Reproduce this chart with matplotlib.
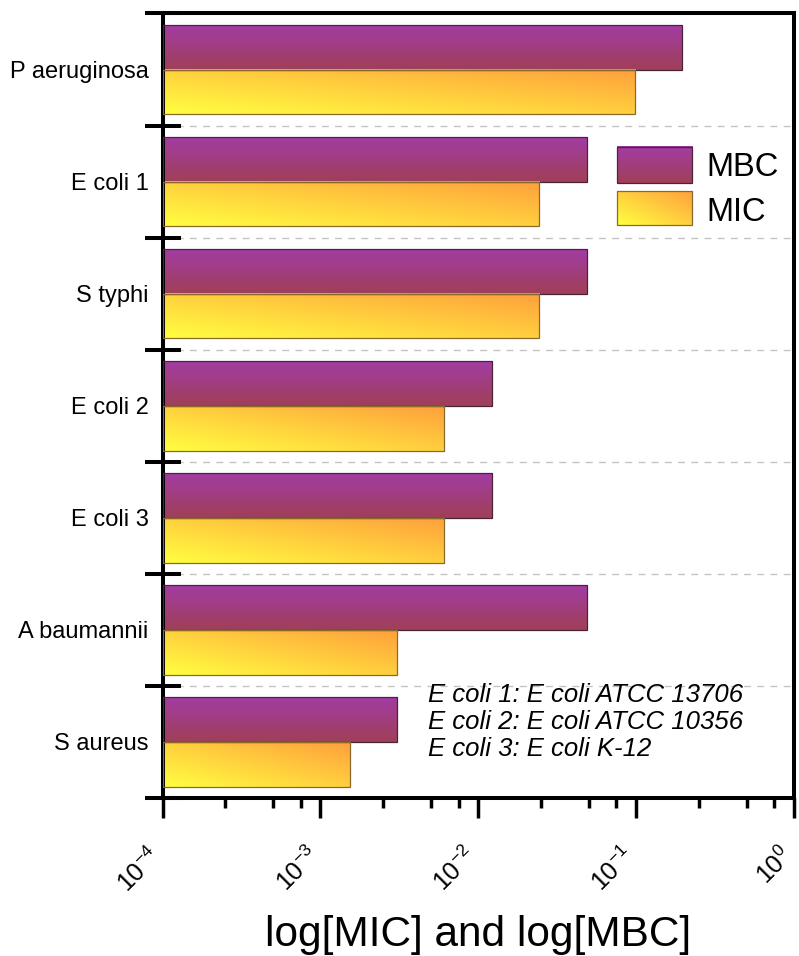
import numpy as np
import matplotlib
matplotlib.use("Agg")
import matplotlib.pyplot as plt
from matplotlib.image import AxesImage
from matplotlib.patches import Rectangle
from matplotlib.ticker import FixedLocator, NullFormatter
from matplotlib.transforms import ScaledTranslation

plt.rcParams["font.family"] = ["Liberation Sans", "DejaVu Sans"]
plt.rcParams["mathtext.default"] = "regular"
plt.rcParams["axes.unicode_minus"] = False

# ---- data -------------------------------------------------------------
strains = ["P aeruginosa", "E coli 1", "S typhi", "E coli 2", "E coli 3",
           "A baumannii", "S aureus"]
mbc = [0.195, 0.0488, 0.0488, 0.0122, 0.0122, 0.0488, 0.00305]
mic = [0.0977, 0.0244, 0.0244, 0.0061, 0.0061, 0.00305, 0.00153]
xticks = [1e-4, 1e-3, 1e-2, 1e-1, 1e0]
strain_notes = ["E coli 1: E coli ATCC 13706",
                "E coli 2: E coli ATCC 10356",
                "E coli 3: E coli K-12"]

# ---- colours ----------------------------------------------------------
MBC_TOP = np.array([162, 60, 164]) / 255
MBC_BOT = np.array([160, 64, 86]) / 255
MIC_LOW = np.array([255, 255, 64]) / 255
MIC_HIGH = np.array([255, 160, 60]) / 255
MBC_EDGE = "#4a2438"
MIC_EDGE = "#8a6a2c"


def vertical_gradient(bottom, top, n=64):
    t = np.linspace(0, 1, n)[:, None, None]
    return np.repeat(bottom * (1 - t) + top * t, 2, axis=1)


def diagonal_gradient(low, high, n=64):
    u = np.linspace(0, 1, n)
    uu, vv = np.meshgrid(u, u)
    t = ((uu + vv) / 2)[..., None]
    return low * (1 - t) + high * t


MBC_IMG = vertical_gradient(MBC_BOT, MBC_TOP)
MIC_IMG = diagonal_gradient(MIC_LOW, MIC_HIGH)

# ---- figure -----------------------------------------------------------
fig = plt.figure(figsize=(7.99, 9.56), dpi=100)
ax = fig.add_axes([0.2034, 0.1653, 0.7904, 0.8206])
ax.set_xscale("log")
XMIN, XMAX = xticks[0], xticks[-1]
ax.set_xlim(XMIN, XMAX)
ax.set_ylim(len(strains) - 0.5, -0.5)
ax.set_autoscale_on(False)

y = np.arange(len(strains))
h = 0.4
mbc_bars = ax.barh(y - h / 2, np.array(mbc) - XMIN, left=XMIN, height=h,
                   facecolor="none", edgecolor=MBC_EDGE, linewidth=0.9,
                   zorder=3)
mic_bars = ax.barh(y + h / 2, np.array(mic) - XMIN, left=XMIN, height=h,
                   facecolor="none", edgecolor=MIC_EDGE, linewidth=0.9,
                   zorder=3)

to_axes = ax.transData + ax.transAxes.inverted()


def paint(x0, x1, y0, y1, img):
    im = AxesImage(ax, origin="lower", interpolation="bilinear",
                   extent=(x0, x1, y0, y1))
    im.set_transform(ax.transAxes)
    im.set_data(img)
    im.set_zorder(2)
    ax.add_image(im)


def fill_bar(patch, img):
    bb = patch.get_bbox()
    pts = to_axes.transform([[bb.x0, bb.y0], [bb.x1, bb.y1]])
    xs, ys = sorted(pts[:, 0]), sorted(pts[:, 1])
    paint(xs[0], xs[1], ys[0], ys[1], img)


for p in mbc_bars.patches:
    fill_bar(p, MBC_IMG)
for p in mic_bars.patches:
    fill_bar(p, MIC_IMG)

# ---- legend (gradient swatches) ---------------------------------------
legend_rows = [("MBC", MBC_IMG, MBC_EDGE, 0.7839, 0.8298, 0.7930),
               ("MIC", MIC_IMG, MIC_EDGE, 0.7304, 0.7737, 0.7356)]
lx0, lx1 = 0.7197, 0.8385
for name, img, edge, ly0, ly1, base in legend_rows:
    paint(lx0, lx1, ly0, ly1, img)
    ax.add_patch(Rectangle((lx0, ly0), lx1 - lx0, ly1 - ly0,
                           transform=ax.transAxes, facecolor="none",
                           edgecolor=edge, linewidth=0.9, zorder=3))
    ax.text(0.8607, base, name, transform=ax.transAxes, fontsize=23.5,
            va="baseline", ha="left", zorder=4)

# ---- strain notes -----------------------------------------------------
for line, yb in zip(strain_notes, [0.1224, 0.0880, 0.0535]):
    ax.text(0.4204, yb, line, transform=ax.transAxes, fontsize=18.5,
            style="italic", va="baseline", ha="left", zorder=4)

# ---- axes styling -----------------------------------------------------
for side in ["left", "right", "top", "bottom"]:
    ax.spines[side].set_linewidth(2.9)

ax.set_xticks(xticks)
minor = [m * 10.0 ** k for k in range(-4, 0) for m in (2.5, 5.0, 7.5)]
ax.xaxis.set_minor_locator(FixedLocator(minor))
ax.xaxis.set_minor_formatter(NullFormatter())
ax.tick_params(axis="x", which="major", direction="out", length=14.4,
               width=2.5, labelsize=18, pad=18, top=False)
ax.tick_params(axis="x", which="minor", direction="out", length=7.2,
               width=2.5, top=False)
shift = ScaledTranslation(4 / 100, 0, fig.dpi_scale_trans)
for lbl in ax.get_xticklabels():
    lbl.set_rotation(45)
    lbl.set_ha("right")
    lbl.set_transform(lbl.get_transform() + shift)

ax.set_yticks(y)
ax.set_yticklabels(strains)
ax.yaxis.set_minor_locator(FixedLocator(np.arange(-0.5, len(strains), 1.0)))
ax.tick_params(axis="y", which="major", length=0, labelsize=17, pad=10,
               right=False)
ax.tick_params(axis="y", which="minor", direction="inout", length=26,
               width=2.9, right=False)
ax.grid(which="minor", axis="y", linestyle=(0, (5, 4.5)),
        color="#c4c4c4", linewidth=1.0, zorder=1)
ax.set_axisbelow(True)

ax.set_xlabel("log[MIC] and log[MBC]", fontsize=30.5)
ax.xaxis.label.set_va("baseline")
ax.xaxis.set_label_coords(0.5, -0.1887)

ax.set_xlim(XMIN, XMAX)
ax.set_ylim(len(strains) - 0.5, -0.5)

fig.savefig("out.png", dpi=100)
